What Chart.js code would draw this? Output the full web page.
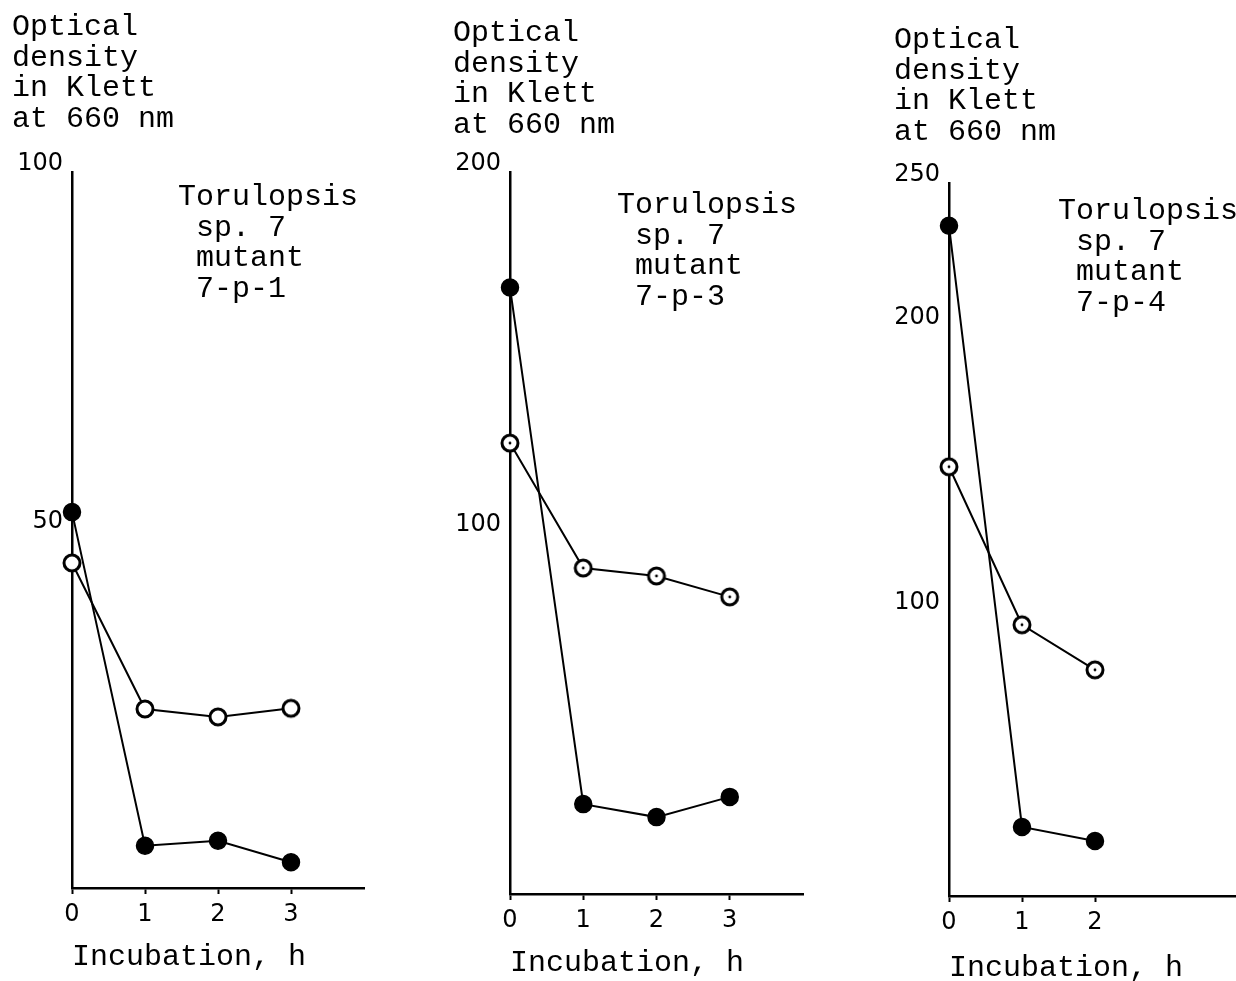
<!DOCTYPE html>
<html>
<head>
<meta charset="utf-8">
<script src="https://cdn.jsdelivr.net/npm/chart.js@4.4.1/dist/chart.umd.min.js"></script>
<style>
  html, body { margin: 0; padding: 0; background: #fff; width: 1236px; height: 981px; overflow: hidden; }
  .panel { position: absolute; top: 0; width: 400px; height: 1000px; }
  .note { position: absolute; color: #000; white-space: pre; font: 30px/30.6px 'Liberation Mono', monospace; }
</style>
</head>
<body>
<div class="panel" style="left:0px"><canvas id="chart-p1"></canvas></div>
<div class="panel" style="left:441px"><canvas id="chart-p3"></canvas></div>
<div class="panel" style="left:882px"><canvas id="chart-p4"></canvas></div>
<div class="note" id="note-p1" style="left:178px;top:182px"></div>
<div class="note" id="note-p3" style="left:617px;top:190px"></div>
<div class="note" id="note-p4" style="left:1058px;top:196px"></div>
<script>
// ── Data ───────────────────────────────────────────────────────────────────
const Y_TITLE = ['Optical', 'density', 'in Klett', 'at 660 nm'];
const X_TITLE = 'Incubation, h';

const HOURS_4 = [0, 1, 2, 3];
const HOURS_3 = [0, 1, 2];

// mutant 7-p-1
const P1_FILLED = [52.5, 5.9, 6.6, 3.6];
const P1_OPEN   = [45.4, 25.0, 23.9, 25.1];
const P1_YTICKS = [50, 100];

// mutant 7-p-3
const P3_FILLED = [168, 24.9, 21.3, 26.9];
const P3_OPEN   = [124.9, 90.3, 88.1, 82.3];
const P3_YTICKS = [100, 200];

// mutant 7-p-4
const P4_FILLED = [235, 24.2, 19.3];
const P4_OPEN   = [150.5, 95.1, 79.3];
const P4_YTICKS = [100, 200, 250];

const MONO = "'Liberation Mono', monospace";
const SANS = "'DejaVu Sans', sans-serif";

// ── Helpers ────────────────────────────────────────────────────────────────

function pts(xs, ys) {
  return xs.map((x, i) => ({ x, y: ys[i] }));
}

// open circle marker, optionally with the small centre dot
function ring(dot) {
  const c = document.createElement('canvas');
  c.width = c.height = 24;
  const g = c.getContext('2d');
  g.beginPath();
  g.arc(12, 12, 8, 0, Math.PI * 2);
  g.fillStyle = '#fff';
  g.fill();
  g.lineWidth = 3;
  g.strokeStyle = '#000';
  g.stroke();
  if (dot) {
    g.beginPath();
    g.arc(12, 12, 1.4, 0, Math.PI * 2);
    g.fillStyle = '#000';
    g.fill();
  }
  return c;
}

function makePanel(id, p) {
  new Chart(document.getElementById(id), {
    type: 'line',
    data: {
      datasets: [
        {
          data: pts(p.hours, p.filled),
          borderColor: '#000', borderWidth: 2, tension: 0, clip: false,
          pointStyle: 'circle', pointRadius: 8.5, pointBorderWidth: 1.5,
          pointBackgroundColor: '#000', pointBorderColor: '#000',
        },
        {
          data: pts(p.hours, p.open),
          borderColor: '#000', borderWidth: 2, tension: 0, clip: false,
          pointStyle: ring(p.dot),
        },
      ],
    },
    options: {
      responsive: true, maintainAspectRatio: false, animation: false,
      devicePixelRatio: 1,
      layout: { padding: { left: 12, right: p.padRight, top: 0, bottom: 0 } },
      plugins: {
        legend: { display: false },
        tooltip: { enabled: false },
        title: {
          display: true, text: Y_TITLE, align: 'start', color: '#000',
          font: { family: MONO, size: 30, weight: 'normal', lineHeight: 1.02 },
          padding: { top: p.titleTop, bottom: p.titleBottom },
        },
      },
      scales: {
        x: {
          type: 'linear', min: 0, max: 4,
          afterBuildTicks: s => { s.ticks = p.hours.map(v => ({ value: v })); },
          afterFit: s => { s.height = p.xHeight; },
          grid: { drawOnChartArea: false, drawTicks: true, tickLength: 6, tickWidth: 2, color: '#000' },
          border: { display: true, color: '#000', width: 2.5 },
          ticks: { color: '#000', font: { family: SANS, size: 24 }, padding: 6, maxRotation: 0, autoSkip: false },
          title: {
            display: true, text: X_TITLE, align: 'start', color: '#000',
            font: { family: MONO, size: 30, lineHeight: 1.02 },
            padding: { top: 0, bottom: p.xTitleBottom },
          },
        },
        y: {
          type: 'linear', min: 0, max: p.yMax,
          afterBuildTicks: s => { s.ticks = p.yTicks.map(v => ({ value: v })); },
          afterFit: s => { s.width = p.yWidth; },
          grid: { display: false, drawTicks: false },
          border: { display: true, color: '#000', width: 2.5 },
          ticks: { color: '#000', font: { family: SANS, size: 24 }, padding: 9, labelOffset: -8 },
        },
      },
    },
  });
}

// ── Bootstrap ──────────────────────────────────────────────────────────────

makePanel('chart-p1', {
  hours: HOURS_4, filled: P1_FILLED, open: P1_OPEN, yTicks: P1_YTICKS, yMax: 100, dot: false,
  padRight: 36, yWidth: 60, titleTop: 12, titleBottom: 37.6, xHeight: 112, xTitleBottom: 27.7,
});
makePanel('chart-p3', {
  hours: HOURS_4, filled: P3_FILLED, open: P3_OPEN, yTicks: P3_YTICKS, yMax: 200, dot: true,
  padRight: 38, yWidth: 57, titleTop: 18, titleBottom: 31.6, xHeight: 106, xTitleBottom: 21.7,
});
makePanel('chart-p4', {
  hours: HOURS_3, filled: P4_FILLED, open: P4_OPEN, yTicks: P4_YTICKS, yMax: 250, dot: true,
  padRight: 41, yWidth: 55, titleTop: 24.7, titleBottom: 35.9, xHeight: 104, xTitleBottom: 16.7,
});

document.getElementById('note-p1').textContent = 'Torulopsis\n sp. 7\n mutant\n 7-p-1';
document.getElementById('note-p3').textContent = 'Torulopsis\n sp. 7\n mutant\n 7-p-3';
document.getElementById('note-p4').textContent = 'Torulopsis\n sp. 7\n mutant\n 7-p-4';
</script>
</body>
</html>
